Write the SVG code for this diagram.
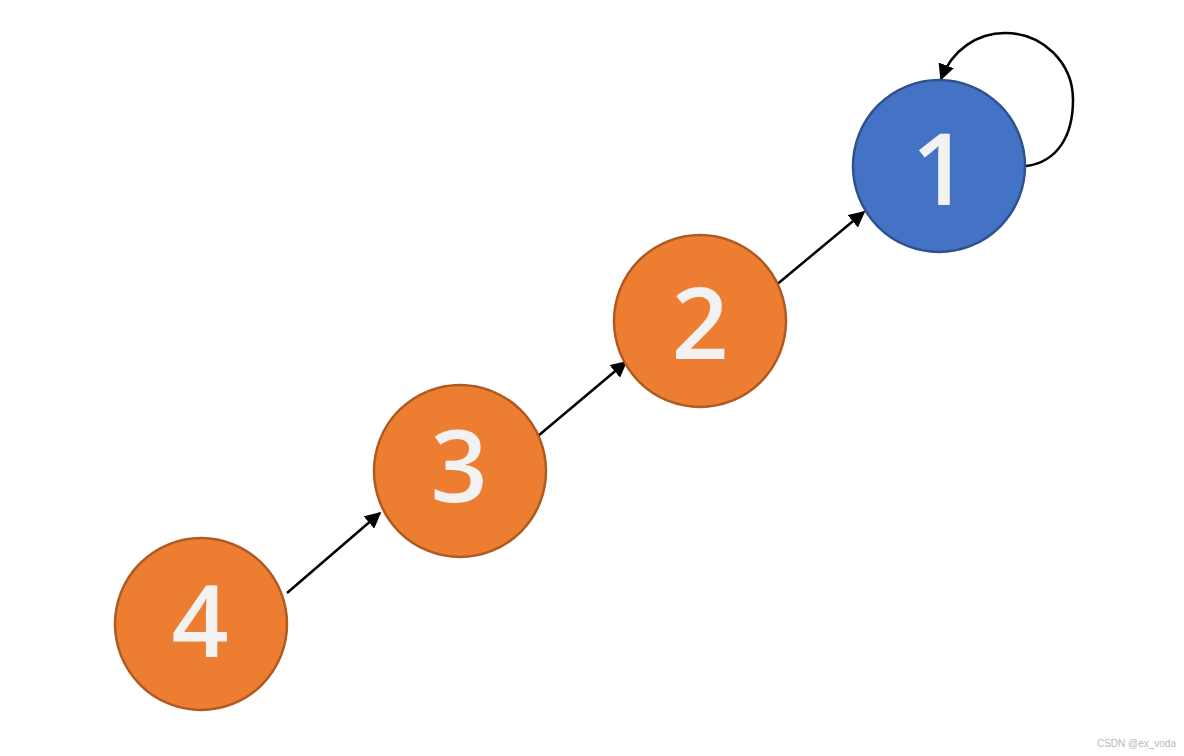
<svg xmlns="http://www.w3.org/2000/svg" width="1184" height="756" viewBox="0 0 1184 756">
<style>
.orange{fill:#ED7D31;stroke:#AE5A21;stroke-width:2.5}
.blue{fill:#4472C4;stroke:#2F528F;stroke-width:2.5}
.lbl{font-family:"Open Sans","Liberation Sans",Arial,sans-serif;font-weight:600;font-size:100px;fill:#F2F2F2;text-anchor:middle}
.edge{fill:none;stroke:#000;stroke-width:2.5;marker-end:url(#ah)}
.wm{font-family:"Liberation Sans","Noto Sans CJK SC",sans-serif;font-size:10px;fill:#9a9a9a;opacity:0.7;text-anchor:end}
</style>
<defs>
<marker id="ah" viewBox="0 0 10 10" refX="9" refY="5" markerWidth="6.5" markerHeight="6.5" markerUnits="strokeWidth" orient="auto">
<path d="M0,0 L10,5 L0,10 z" fill="#000"/>
</marker>
</defs>
<rect width="1184" height="756" fill="#fff"/>
<g id="connectors">
<path class="edge" d="M287,593 L380,513"/>
<path class="edge" d="M538,436 L626,362"/>
<path class="edge" d="M775,286 L864,212"/>
<path class="edge" d="M1026,166 C1058,162 1073,135 1073,100 C1073,62 1042,33 1005,33 C977,33 952,50 941,79"/>
</g>
<g id="node1"><circle class="blue" cx="939" cy="166" r="86"/><text class="lbl" x="940" y="205">1</text></g>
<g id="node2"><circle class="orange" cx="700" cy="321" r="86"/><text class="lbl" x="700" y="359">2</text></g>
<g id="node3"><circle class="orange" cx="460" cy="471" r="86"/><text class="lbl" x="459" y="502">3</text></g>
<g id="node4"><circle class="orange" cx="201" cy="624" r="86"/><text class="lbl" x="200" y="657">4</text></g>
<text class="wm" x="1176" y="747">CSDN @ex_voda</text>
</svg>
